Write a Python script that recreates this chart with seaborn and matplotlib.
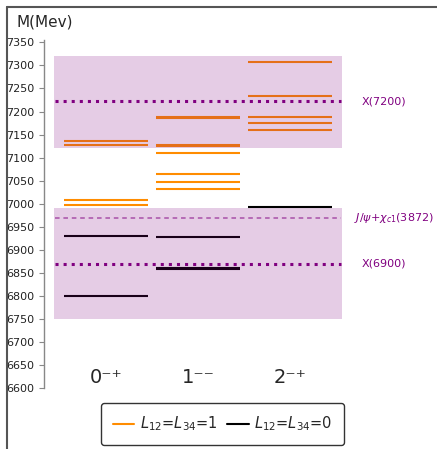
import matplotlib
matplotlib.use("Agg")
import matplotlib.pyplot as plt
from matplotlib.lines import Line2D
import seaborn as sns
import pandas as pd

# ---- data ----
categories = ["0⁻⁺", "1⁻⁻", "2⁻⁺"]
l1_cat = [0, 0, 0, 0, 1, 1, 1, 1, 1, 1, 1, 1, 2, 2, 2, 2, 2]
l1_mass = [7136, 7127, 7008, 6997,
           7189, 7187, 7128, 7125, 7109, 7064, 7048, 7033,
           7308, 7234, 7188, 7174, 7159]
l0_cat = [0, 0, 1, 1, 1, 2]
l0_mass = [6930, 6801, 6927, 6861, 6859, 6992]
bands = [(7120, 7320), (6750, 6990)]
x7200 = 7222
x6900 = 6870
threshold = 6969
ref_labels = ["X(7200)", r"$J/\psi$+$\chi_{c1}$(3872)", "X(6900)"]
ylim = (6600, 7355)

sns.set_style("ticks")
plt.rcParams["font.family"] = ["DejaVu Sans"]

df1 = pd.DataFrame({"cat": l1_cat, "mass": l1_mass})
df0 = pd.DataFrame({"cat": l0_cat, "mass": l0_mass})

fig = plt.figure(figsize=(4.37, 4.49), dpi=100)
ax = fig.add_axes([44 / 437, 60.7 / 449, (437 - 44) / 437, 348.3 / 449])

hw = 0.457
ax.hlines(df1["mass"], df1["cat"] - hw, df1["cat"] + hw, color="darkorange", lw=1.5, zorder=1)
ax.hlines(df0["mass"], df0["cat"] - hw, df0["cat"] + hw, color="black", lw=1.5, zorder=1)

xl, xr = -0.565, 2.565
for lo, hi in bands:
    ax.fill_between([xl, xr], lo, hi, color="purple", alpha=0.2, lw=0, zorder=2)

ax.hlines([x7200, x6900], xl + 0.01, xr - 0.01, color="purple", lw=2.2,
          linestyles=":", zorder=3)
ax.hlines([threshold], xl + 0.01, xr - 0.01, color="purple", alpha=0.6, lw=1.1,
          linestyles=(0, (3, 2.5)), zorder=3)

ax.text(2.78, x7200, ref_labels[0], color="purple", fontsize=8, va="center", ha="left")
ax.text(2.70, threshold, ref_labels[1], color="purple", fontsize=8, va="center", ha="left")
ax.text(2.78, x6900, ref_labels[2], color="purple", fontsize=8, va="center", ha="left")

for i, c in enumerate(categories):
    ax.text(i, 6624, c, fontsize=14, ha="center", va="center")

ax.set_xlim(-0.674, 3.598)
ax.set_ylim(*ylim)
ax.set_yticks(range(6600, 7351, 50))
ax.set_xticks([])
for s in ["top", "right", "bottom"]:
    ax.spines[s].set_visible(False)
ax.spines["left"].set_color("#888888")
ax.spines["left"].set_linewidth(1.0)
ax.spines["left"].set_bounds(6600, 7355)
ax.tick_params(axis="y", labelsize=8, length=3.5, width=0.8, color="#888888", labelcolor="#222222")
ax.patch.set_alpha(0)

fig.text(16 / 437, 1 - 22 / 449, "M(Mev)", fontsize=11, ha="left", va="center")

handles = [Line2D([], [], color="darkorange", lw=1.5),
           Line2D([], [], color="black", lw=1.5)]
leg = fig.legend(handles, [r"$L_{12}$=$L_{34}$=1", r"$L_{12}$=$L_{34}$=0"],
                 loc="center", bbox_to_anchor=(222.5 / 437, 1 - 424 / 449),
                 ncol=2, fontsize=10.5, frameon=True, fancybox=True,
                 handlelength=1.5, handletextpad=0.4, columnspacing=0.6,
                 borderpad=0.8)
leg.get_frame().set_edgecolor("#333333")
leg.get_frame().set_linewidth(1.0)
leg.get_frame().set_alpha(1)

# figure frame (left and top)
fig.add_artist(Line2D([7 / 437, 7 / 437], [0, 1 - 7 / 449], color="#555555", lw=1.5,
                      transform=fig.transFigure))
fig.add_artist(Line2D([7 / 437, 1], [1 - 7 / 449, 1 - 7 / 449], color="#555555", lw=1.5,
                      transform=fig.transFigure))

fig.savefig("out.png", dpi=100)
